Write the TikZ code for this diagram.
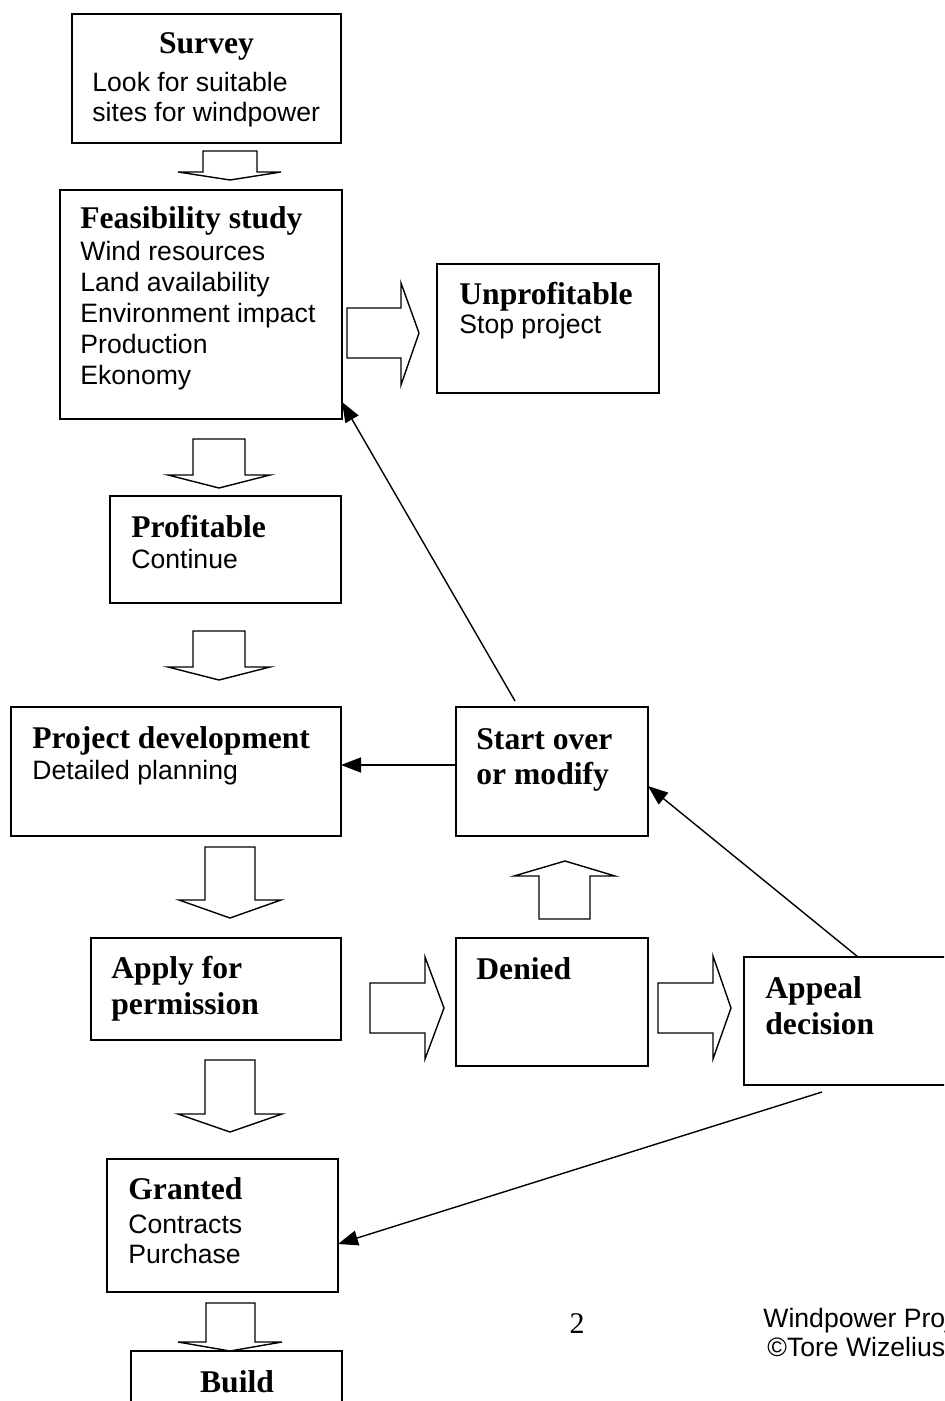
\documentclass[tikz,border=0pt]{standalone}
\usepackage{fontspec}
\setmainfont{Liberation Serif}
\newfontfamily\arialf{Liberation Sans}
\usetikzlibrary{arrows.meta}
\begin{document}
\begin{tikzpicture}[x=0.5pt,y=-0.5pt,
  box/.style={draw, line width=0.8pt, inner sep=0pt, outer sep=0pt},
  blk/.style={draw, line width=0.7pt, fill=white, line join=miter},
  ttl/.style={font=\bfseries\fontsize{15.8}{17}\selectfont, inner sep=0pt, anchor=base west},
  bdy/.style={font=\arialf\fontsize{13.3}{15}\selectfont, inner sep=0pt, anchor=base west},
  con/.style={line width=0.7pt, -{Triangle[length=10pt,width=7.5pt]}}]
\clip (0,0) rectangle (944,1401);
\useasboundingbox (0,0) rectangle (944,1401);
\fill[white] (0,0) rectangle (944,1401);

% boxes
\node[box, minimum width=134.5pt, minimum height=64.5pt] (survey) at (206.5,78.5) {};
\node[box, minimum width=141pt, minimum height=114.5pt] (feas) at (201,304.5) {};
\node[box, minimum width=111pt, minimum height=64.5pt] (unprof) at (548,328.5) {};
\node[box, minimum width=115.5pt, minimum height=53.5pt] (profit) at (225.5,549.5) {};
\node[box, minimum width=165pt, minimum height=64.5pt] (projdev) at (176,771.5) {};
\node[box, minimum width=96pt, minimum height=64.5pt] (startover) at (552,771.5) {};
\node[box, minimum width=125pt, minimum height=51pt] (apply) at (216,989) {};
\node[box, minimum width=96pt, minimum height=64pt] (denied) at (552,1002) {};
\node[box, minimum width=118pt, minimum height=64pt] (appeal) at (862,1021) {};
\node[box, minimum width=115.5pt, minimum height=66.5pt] (granted) at (222.5,1225.5) {};
\node[box, minimum width=105.5pt, minimum height=49.5pt] (build) at (236.5,1400.5) {};

% texts
\node[ttl, anchor=base] (t1) at (206.5,54) {Survey};
\node[bdy] (t1a) at (92,92) {Look for suitable};
\node[bdy] (t1b) at (92,122) {sites for windpower};

\node[ttl] (t2) at (80,229) {Feasibility study};
\node[bdy] (t2a) at (80,261) {Wind resources};
\node[bdy] (t2b) at (80,292) {Land availability};
\node[bdy] (t2c) at (80,322) {Environment impact};
\node[bdy] (t2d) at (80,353) {Production};
\node[bdy] (t2e) at (80,384) {Ekonomy};

\node[ttl] (t3) at (459,305) {Unprofitable};
\node[bdy] (t3a) at (459,334) {Stop project};

\node[ttl] (t4) at (131,537) {Profitable};
\node[bdy] (t4a) at (131,568) {Continue};

\node[ttl] (t5) at (32,748) {Project development};
\node[bdy] (t5a) at (32,779) {Detailed planning};

\node[ttl] (t6) at (476,749) {Start over};
\node[ttl] (t6a) at (476,784) {or modify};

\node[ttl] (t7) at (111,978) {Apply for};
\node[ttl] (t7a) at (111,1014) {permission};

\node[ttl] (t8) at (476,979) {Denied};

\node[ttl] (t9) at (765,998) {Appeal};
\node[ttl] (t9a) at (765,1034) {decision};

\node[ttl] (t10) at (128,1199) {Granted};
\node[bdy] (t10a) at (128,1233) {Contracts};
\node[bdy] (t10b) at (128,1263) {Purchase};

\node[ttl, anchor=base] (t11) at (237,1392) {Build};

\node[font=\fontsize{15}{17}\selectfont, inner sep=0pt, anchor=base] (pg) at (577,1333) {2};
\node[bdy] (f1) at (763,1327) {Windpower Proj};
\node[bdy] (f2) at (767,1356) {©Tore Wizelius};

% block arrows (down)
\draw[blk] (203,151) -- (257,151) -- (257,172) -- (281,172) -- (230,180) -- (178,172) -- (203,172) -- cycle;
\draw[blk] (193,439) -- (245,439) -- (245,475) -- (270,475) -- (219,488) -- (168,475) -- (193,475) -- cycle;
\draw[blk] (193,631) -- (245,631) -- (245,667) -- (270,667) -- (219,680) -- (168,667) -- (193,667) -- cycle;
\draw[blk] (205,847) -- (255,847) -- (255,900) -- (281,900) -- (230,918) -- (179,900) -- (205,900) -- cycle;
\draw[blk] (205,1060) -- (255,1060) -- (255,1114) -- (282,1114) -- (230,1132) -- (178,1114) -- (205,1114) -- cycle;
\draw[blk] (206,1303) -- (255,1303) -- (255,1342) -- (282,1342) -- (230,1351) -- (178,1342) -- (206,1342) -- cycle;
% block arrow (up)
\draw[blk] (539,919) -- (590,919) -- (590,876) -- (615,876) -- (565,861) -- (514,876) -- (539,876) -- cycle;
% block arrows (right)
\draw[blk] (347,308) -- (401,308) -- (401,283) -- (419,333) -- (401,385) -- (401,358) -- (347,358) -- cycle;
\draw[blk] (370,983) -- (425,983) -- (425,957) -- (444,1008) -- (425,1059) -- (425,1033) -- (370,1033) -- cycle;
\draw[blk] (658,983) -- (713,983) -- (713,956) -- (731,1008) -- (713,1059) -- (713,1033) -- (658,1033) -- cycle;

% connectors
\draw[con] ([xshift=-18.5pt,yshift=3pt]startover.north) -- ([yshift=8.5pt]feas.south east);
\draw[con] ([yshift=3.25pt]startover.west) -- ([yshift=3.25pt]projdev.east);
\draw[con] ([xshift=57pt]appeal.north west) -- ([yshift=-7.25pt]startover.east);
\draw[con] ([xshift=39pt,yshift=-3.5pt]appeal.south west) -- ([yshift=-9.25pt]granted.east);
\end{tikzpicture}
\end{document}
